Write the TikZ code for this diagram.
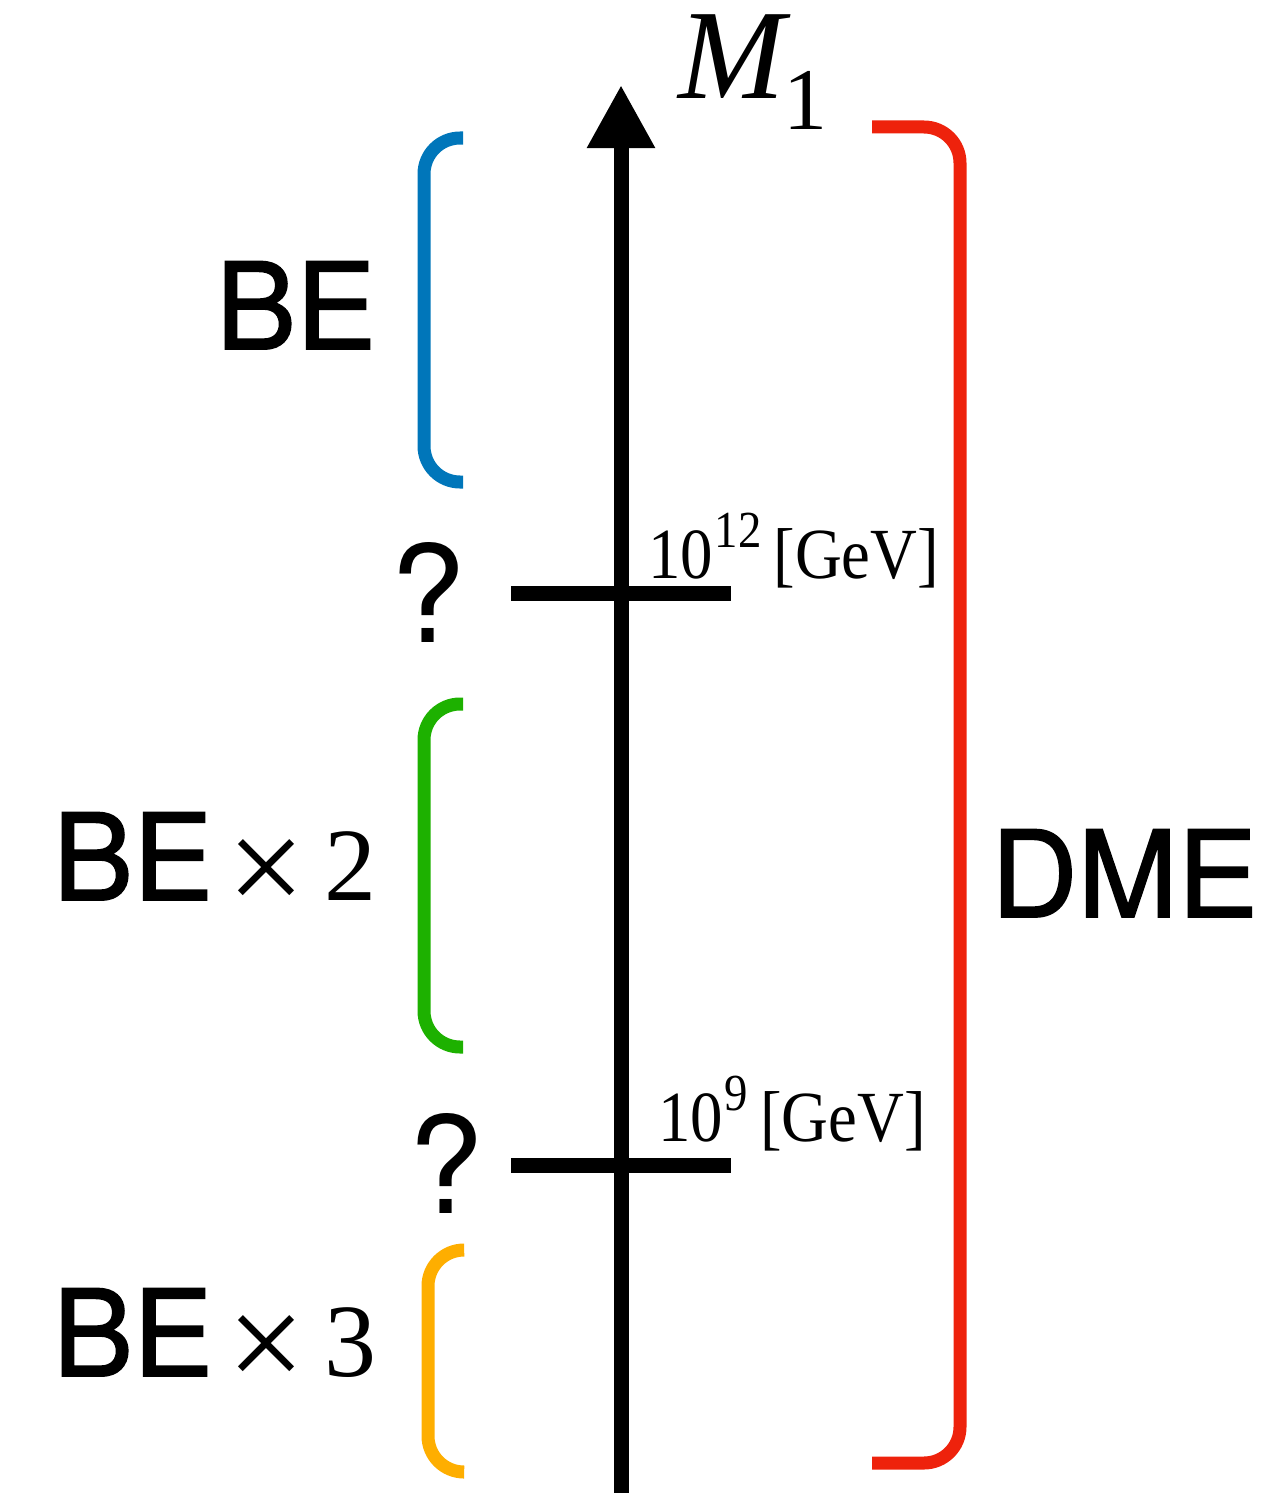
\documentclass[tikz,border=0pt]{standalone}
\usepackage{fontspec}
\setmainfont{Liberation Serif}
\newfontfamily\sansf[FakeBold=1.4]{TeX Gyre Heros}
\newfontfamily\sansq{TeX Gyre Heros}
\newfontfamily\seriff{Liberation Serif}
\newfontfamily\serifn[FakeStretch=0.9]{Liberation Serif}
\usetikzlibrary{arrows.meta}
\definecolor{kblue}{RGB}{0,118,186}
\definecolor{kgreen}{RGB}{29,177,0}
\definecolor{korange}{RGB}{254,174,0}
\definecolor{kred}{RGB}{238,34,12}
\tikzset{
  axisline/.style={line width=15pt, black},
  tickline/.style={line width=15pt, black},
  brace/.style={line width=13pt, rounded corners=36pt},
  lbl/.style={inner sep=0pt, outer sep=0pt, anchor=base west},
  biglbl/.style={lbl, font=\sansf\fontsize{120}{120}\selectfont},
  qlbl/.style={lbl, font=\sansq\fontsize{135}{135}\selectfont},
  ticklbl/.style={lbl, font=\serifn\fontsize{72}{72}\selectfont},
}
\newcommand{\timesx}[1]{\kern14pt\raisebox{-13pt}{\seriff\fontsize{138}{138}\selectfont\char"00D7}\kern20pt{\seriff\fontsize{104}{104}\selectfont #1}}
\newcommand{\gevsup}[1]{\kern2pt\raisebox{0.42em}{\fontsize{52}{52}\selectfont #1}\kern12pt[GeV]}
\begin{document}
\begin{tikzpicture}[x=1pt,y=-1pt]
\useasboundingbox (0,0) rectangle (1265,1493);
% axis
\coordinate (axbot) at (621,1493);
\coordinate (axtop) at (621,85);
\draw[axisline, -{Triangle[length=63pt,width=64pt]}] (axbot) -- (axtop);
% ticks
\coordinate (t1l) at (511,593); \coordinate (t1r) at (731,593);
\coordinate (t2l) at (511,1165); \coordinate (t2r) at (731,1165);
\draw[tickline] (t1l) -- (t1r);
\draw[tickline] (t2l) -- (t2r);
% brackets
\coordinate (b1a) at (463,138); \coordinate (b1b) at (424,138);
\coordinate (b1c) at (424,482); \coordinate (b1d) at (463,482);
\draw[brace, kblue] (b1a) -- (b1b) -- (b1c) -- (b1d);
\coordinate (b2a) at (463,704); \coordinate (b2b) at (424,704);
\coordinate (b2c) at (424,1047); \coordinate (b2d) at (463,1047);
\draw[brace, kgreen] (b2a) -- (b2b) -- (b2c) -- (b2d);
\coordinate (b3a) at (463,1250); \coordinate (b3b) at (428,1250);
\coordinate (b3c) at (428,1472); \coordinate (b3d) at (463,1472);
\draw[brace, korange] (b3a) -- (b3b) -- (b3c) -- (b3d);
\coordinate (b4a) at (872,127); \coordinate (b4b) at (960,127);
\coordinate (b4c) at (960,1463); \coordinate (b4d) at (872,1463);
\draw[brace, kred] (b4a) -- (b4b) -- (b4c) -- (b4d);
% labels
\node[lbl, font=\seriff\itshape\fontsize{128}{128}\selectfont] (mlab) at (678,99) {M};
\node[lbl, font=\seriff\fontsize{88}{88}\selectfont] (msub) at (783,130) {1};
\node[biglbl] (be1) at (216,349) {BE};
\node[biglbl] (be2) at (53,900) {BE\timesx{2}};
\node[biglbl] (be3) at (53,1376) {BE\timesx{3}};
\node[biglbl] (dme) at (991,917) {DME};
\node[qlbl] (q1) at (390,642) {?};
\node[qlbl] (q2) at (408,1213) {?};
\node[ticklbl] (l1) at (648,578) {10\gevsup{12}};
\node[ticklbl] (l2) at (658,1141) {10\gevsup{9}};
\end{tikzpicture}
\end{document}
